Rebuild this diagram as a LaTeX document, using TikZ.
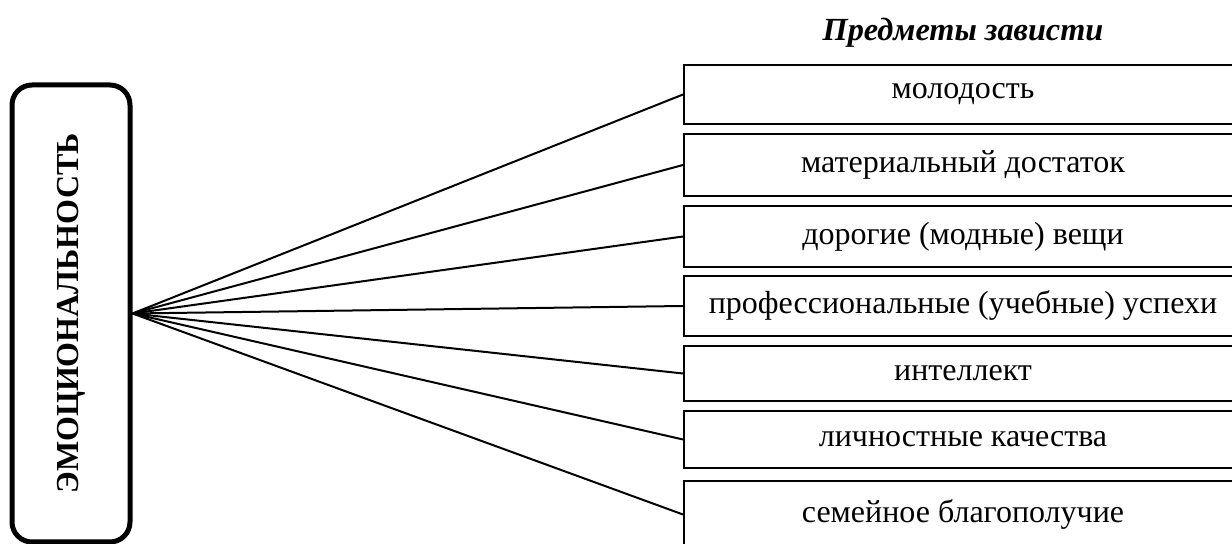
\documentclass[tikz,border=0pt]{standalone}
\usepackage{fontspec}
\setmainfont{Liberation Serif}
\usetikzlibrary{positioning,fit}

\begin{document}
\begin{tikzpicture}[x=0.4pt, y=-0.4pt, link/.style = {thick}]
					\tikzset{item/.style={draw=black, thick, rectangle, inner sep=0pt, anchor=north west, minimum width=223.2pt, text centered, font=\fontsize{12.8}{15}\selectfont}}
					\useasboundingbox (0,0) rectangle (1232,544);

					% Title
					\node[font=\fontsize{12.9}{15}\selectfont\bfseries\itshape] (title) at (963,33) {Предметы зависти};

					% Left box
					\node[fit={(12,85) (130,542)}, inner sep=0pt, draw=black, line width=2pt, rounded corners=8pt] (emo) {};
					\node[rotate=90, font=\fontsize{12.8}{15}\selectfont\bfseries] (emotext) at (emo.center) {ЭМОЦИОНАЛЬНОСТЬ};

					% Objects
					\node[item, minimum height=23.6pt] (young) at (683,64) {молодость};
					\node[item, minimum height=24.8pt] (wealth) at (683,133) {материальный достаток};
					\node[item, minimum height=24.4pt] (things) at (683,205) {дорогие (модные) вещи};
					\node[item, minimum height=24pt] (success) at (683,275) {профессиональные (учебные) успехи};
					\node[item, minimum height=22pt] (intel) at (683,345) {интеллект};
					\node[item, minimum height=22.8pt] (person) at (683,410) {личностные качества};
					\node[item, minimum height=26.8pt] (family) at (683,480) {семейное благополучие};

					\foreach \n in {young,wealth,things,success,intel,person,family}
						\draw[link] (emo.east) -- (\n.west);

				\end{tikzpicture}
\end{document}
